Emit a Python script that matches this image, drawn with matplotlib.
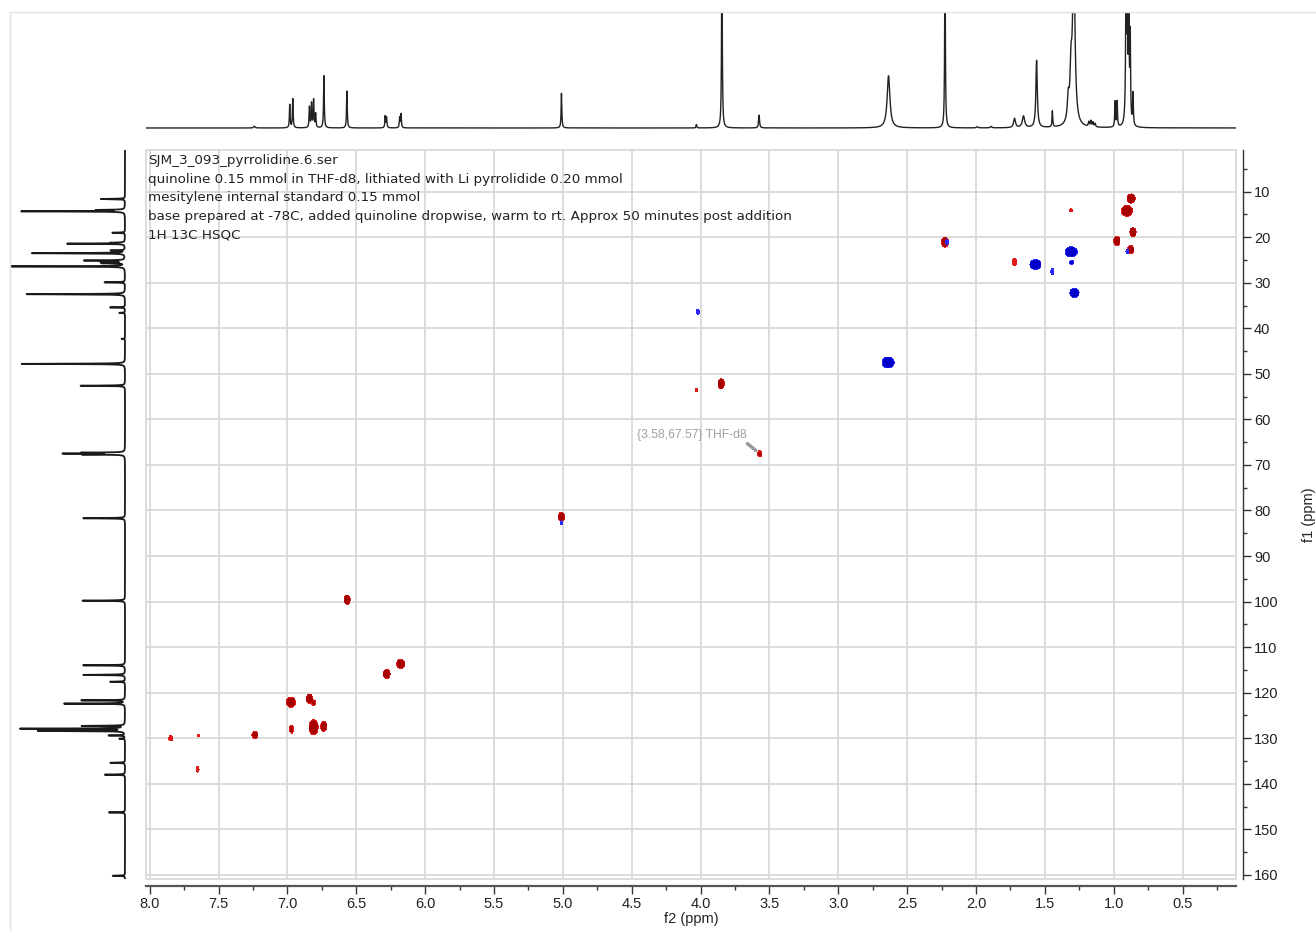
import numpy as np
import matplotlib
matplotlib.use("Agg")
import matplotlib.pyplot as plt
from matplotlib.lines import Line2D
from matplotlib.patches import Rectangle
from matplotlib.ticker import MultipleLocator, FormatStrFormatter

W, H, DPI = 1316, 931, 100
plt.rcParams['font.family'] = ['Liberation Sans', 'DejaVu Sans']

# ---------------- 1H spectrum (f2 projection) ----------------
h_shift = [7.240, 6.983, 6.961, 6.840, 6.825, 6.810, 6.795, 6.735, 6.568,
           6.290, 6.280, 6.185, 6.175, 5.010, 4.030, 3.845, 3.575, 2.635,
           2.225, 1.990, 1.890, 1.720, 1.655, 1.560, 1.445, 1.330, 1.310,
           1.290, 1.180, 1.165, 1.150, 1.135, 0.990, 0.975, 0.910, 0.900,
           0.890, 0.880, 0.860]
h_height = [0.015, 0.20, 0.25, 0.18, 0.21, 0.24, 0.12, 0.45, 0.32,
            0.10, 0.09, 0.09, 0.12, 0.30, 0.03, 1.60, 0.11, 0.45,
            1.50, 0.01, 0.012, 0.08, 0.10, 0.58, 0.14, 0.20, 0.40,
            1.50, 0.04, 0.05, 0.04, 0.03, 0.22, 0.22, 1.30, 1.00,
            0.95, 0.75, 0.28]
h_width = [0.006, 0.003, 0.003, 0.003, 0.003, 0.003, 0.003, 0.003, 0.003,
           0.003, 0.003, 0.003, 0.003, 0.003, 0.003, 0.003, 0.004, 0.012,
           0.003, 0.006, 0.006, 0.008, 0.010, 0.006, 0.003, 0.008, 0.008,
           0.010, 0.004, 0.004, 0.004, 0.004, 0.003, 0.003, 0.004, 0.003,
           0.003, 0.003, 0.003]

# ---------------- 13C spectrum (f1 projection) ----------------
c_shift = [11.6, 14.0, 14.3, 19.0, 21.2, 21.4, 22.9, 23.5, 25.1, 25.4, 25.7,
           26.4, 29.9, 32.5, 35.4, 36.6, 42.3, 47.8, 52.6, 67.3, 67.5, 67.7,
           81.7, 99.8, 114.0, 116.1, 117.6, 121.7, 122.4, 127.3, 127.9,
           128.4, 129.4, 130.1, 135.4, 138.0, 146.3, 160.2]
c_height = [0.21, 0.23, 0.91, 0.11, 0.10, 0.50, 0.12, 0.81, 0.35, 0.20, 0.20,
            1.00, 0.18, 0.86, 0.13, 0.05, 0.03, 0.90, 0.39, 0.35, 0.51, 0.35,
            0.37, 0.37, 0.37, 0.37, 0.13, 0.38, 0.54, 0.37, 0.91,
            0.75, 0.14, 0.05, 0.13, 0.18, 0.14, 0.11]

# ---------------- HSQC cross peaks ----------------
# positive (CH / CH3) correlations: 1H shift, 13C shift, intensity,
# contour half-extent along f2 and f1 (ppm)
pos_h = [0.873, 0.904, 1.310, 0.860, 0.977, 0.877, 2.225, 1.720, 3.850,
         4.030, 3.570, 5.010, 6.567, 6.177, 6.280, 6.975, 6.840, 6.810,
         6.970, 6.810, 6.737, 7.236, 7.847, 7.646, 7.653]
pos_c = [11.5, 14.2, 14.1, 18.9, 20.8, 22.7, 21.05, 25.4, 52.2,
         53.5, 67.5, 81.4, 99.6, 113.7, 115.9, 122.1, 121.3, 122.2,
         128.0, 127.6, 127.4, 129.3, 130.0, 129.4, 136.8]
pos_int = [10, 10, 1.8, 10, 10, 10, 10, 1.8, 10,
           1.8, 2.5, 10, 10, 10, 10, 10, 10, 3,
           3, 10, 10, 4, 1.8, 1.8, 1.8]
pos_rh = [0.029, 0.040, 0.011, 0.022, 0.022, 0.022, 0.025, 0.015, 0.022,
          0.008, 0.015, 0.022, 0.022, 0.029, 0.025, 0.033, 0.022, 0.015,
          0.015, 0.033, 0.022, 0.022, 0.015, 0.008, 0.011]
pos_rc = [1.0, 1.2, 0.35, 1.0, 1.0, 0.9, 1.1, 0.8, 1.1,
          0.35, 0.7, 1.0, 1.0, 1.0, 1.0, 1.1, 1.0, 0.55,
          0.9, 1.65, 1.1, 0.8, 0.55, 0.25, 0.65]

# negative (CH2) correlations
neg_h = [1.309, 0.900, 1.568, 1.304, 1.445, 1.285, 4.020, 2.638, 2.210, 5.010]
neg_c = [23.2, 23.2, 26.0, 25.5, 27.5, 32.2, 36.4, 47.5, 21.05, 82.7]
neg_int = [10, 1.8, 10, 3, 1.8, 10, 1.8, 10, 1.8, 1.8]
neg_rh = [0.044, 0.011, 0.040, 0.015, 0.011, 0.033, 0.011, 0.044, 0.011, 0.008]
neg_rc = [1.1, 0.45, 1.1, 0.45, 0.65, 1.0, 0.55, 1.2, 0.55, 0.45]

f2_ticks = np.arange(8.0, 0.49, -0.5)
f1_ticks = np.arange(10, 161, 10)

XLIM = (8.027, 0.112)
YLIM = (160.92, 0.84)


def px(x0, y0, x1, y1):
    """pixel box (left, top, right, bottom) -> figure rect"""
    return [x0 / W, 1 - y1 / H, (x1 - x0) / W, (y1 - y0) / H]


fig = plt.figure(figsize=(W / DPI, H / DPI), dpi=DPI)

# ---------------- main 2D panel ----------------
ax = fig.add_axes(px(146, 150, 1236, 879))
ax.set_xlim(*XLIM)
ax.set_ylim(*YLIM)

for v in f2_ticks:
    ax.axvline(v, color='#d6d6d6', lw=1.2, zorder=0)
for v in f1_ticks:
    ax.axhline(v, color='#d6d6d6', lw=1.2, zorder=0)
ax.add_patch(Rectangle((0, 0), 1, 1, transform=ax.transAxes, fill=False,
                       ec='#d6d6d6', lw=1.2, clip_on=False, zorder=0))

gx = np.linspace(0.05, 8.1, 2200)
gy = np.linspace(0.0, 162.0, 1500)


def field(hs, cs, amps, rhs, rcs):
    z = np.zeros((gy.size, gx.size))
    for h, c, a, rh, rc in zip(hs, cs, amps, rhs, rcs):
        k = np.sqrt(2 * np.log(a))
        sh, sc = rh / k, rc / k
        ex = np.exp(-0.5 * ((gx - h) / sh) ** 2)
        ey = np.exp(-0.5 * ((gy - c) / sc) ** 2)
        z += a * np.outer(ey, ex)
    return z


zp = field(pos_h, pos_c, pos_int, pos_rh, pos_rc)
zn = field(neg_h, neg_c, neg_int, neg_rh, neg_rc)
ax.contourf(gx, gy, zp, levels=[1, 2, 1e6], colors=['#e31a1a', '#a60000'], zorder=3)
ax.contourf(gx, gy, zn, levels=[1, 2, 1e6], colors=['#2a2aff', '#0000c8'], zorder=3)

# spines / ticks: bottom (f2) and right (f1), offset from the frame
for s in ['top', 'left']:
    ax.spines[s].set_visible(False)
ax.spines['bottom'].set_position(('outward', 5))
ax.spines['right'].set_position(('outward', 5))
ax.spines['bottom'].set_color('#555555')
ax.spines['bottom'].set_linewidth(1.6)
ax.spines['right'].set_color('#333333')
ax.spines['right'].set_linewidth(1.0)
ax.yaxis.tick_right()
ax.yaxis.set_label_position('right')
ax.xaxis.set_major_locator(MultipleLocator(0.5))
ax.xaxis.set_minor_locator(MultipleLocator(0.25))
ax.yaxis.set_major_locator(MultipleLocator(10))
ax.yaxis.set_minor_locator(MultipleLocator(5))
ax.xaxis.set_major_formatter(FormatStrFormatter('%.1f'))
ax.yaxis.set_major_formatter(FormatStrFormatter('%d'))
ax.tick_params(axis='both', which='major', length=6, width=1.0, colors='#333333',
               labelsize=10.5, labelcolor='#222222', pad=2)
ax.tick_params(axis='both', which='minor', length=3, width=1.0, colors='#333333')
ax.set_xlabel('f2 (ppm)', fontsize=10.5, color='#222222', labelpad=1)
ax.set_ylabel('f1 (ppm)', fontsize=10.5, color='#222222', rotation=90)
ax.yaxis.set_label_coords((1302 - 146) / (1236 - 146), 0.5)

# sample description
info = ['SJM_3_093_pyrrolidine.6.ser',
        'quinoline 0.15 mmol in THF-d8, lithiated with Li pyrrolidide 0.20 mmol',
        'mesitylene internal standard 0.15 mmol',
        'base prepared at -78C, added quinoline dropwise, warm to rt. Approx 50 minutes post addition',
        '1H 13C HSQC']
for i, line in enumerate(info):
    fig.text(148 / W, 1 - (161 + 18.5 * i) / H, line, fontsize=9.7,
             family='DejaVu Sans', color='#222222', ha='left', va='center')

# solvent label
ax.annotate('{3.58,67.57} THF-d8', xy=(3.575, 67.4), xytext=(4.463, 63.4),
            textcoords='data', fontsize=8.7, family='Liberation Sans',
            color='#a0a0a0', ha='left', va='center',
            arrowprops=dict(arrowstyle='-', color='#999999', lw=2.5,
                            shrinkA=0, shrinkB=3, relpos=(0.95, 0.2)), zorder=5)

# ---------------- top: 1H projection ----------------
axt = fig.add_axes(px(146, 12, 1236, 131))
xs = np.linspace(XLIM[1], XLIM[0], 9000)
spec1h = np.zeros_like(xs)
for s, h, w in zip(h_shift, h_height, h_width):
    spec1h += h * w ** 2 / ((xs - s) ** 2 + w ** 2)
axt.plot(xs, spec1h, color='#222222', lw=1.0)
axt.set_xlim(*XLIM)
axt.set_ylim(-0.026, 1.0)
axt.axis('off')

# ---------------- left: 13C projection ----------------
axl = fig.add_axes(px(10, 150, 126, 879))
ys = np.linspace(0.84, 160.92, 9000)
spec13c = np.zeros_like(ys)
for s, h in zip(c_shift, c_height):
    w = 0.05
    spec13c += h * w ** 2 / ((ys - s) ** 2 + w ** 2)
axl.plot(-spec13c, ys, color='#1a1a1a', lw=1.3)
axl.set_ylim(*YLIM)
axl.set_xlim(-1.0, 0.0087)
axl.axis('off')

# outer panel border
fig.add_artist(Line2D([10 / W, 1.0], [1 - 12 / H] * 2, color='#e2e2e2', lw=1.0))
fig.add_artist(Line2D([10 / W] * 2, [0, 1 - 12 / H], color='#e2e2e2', lw=1.0))

fig.savefig('out.png', dpi=DPI)
